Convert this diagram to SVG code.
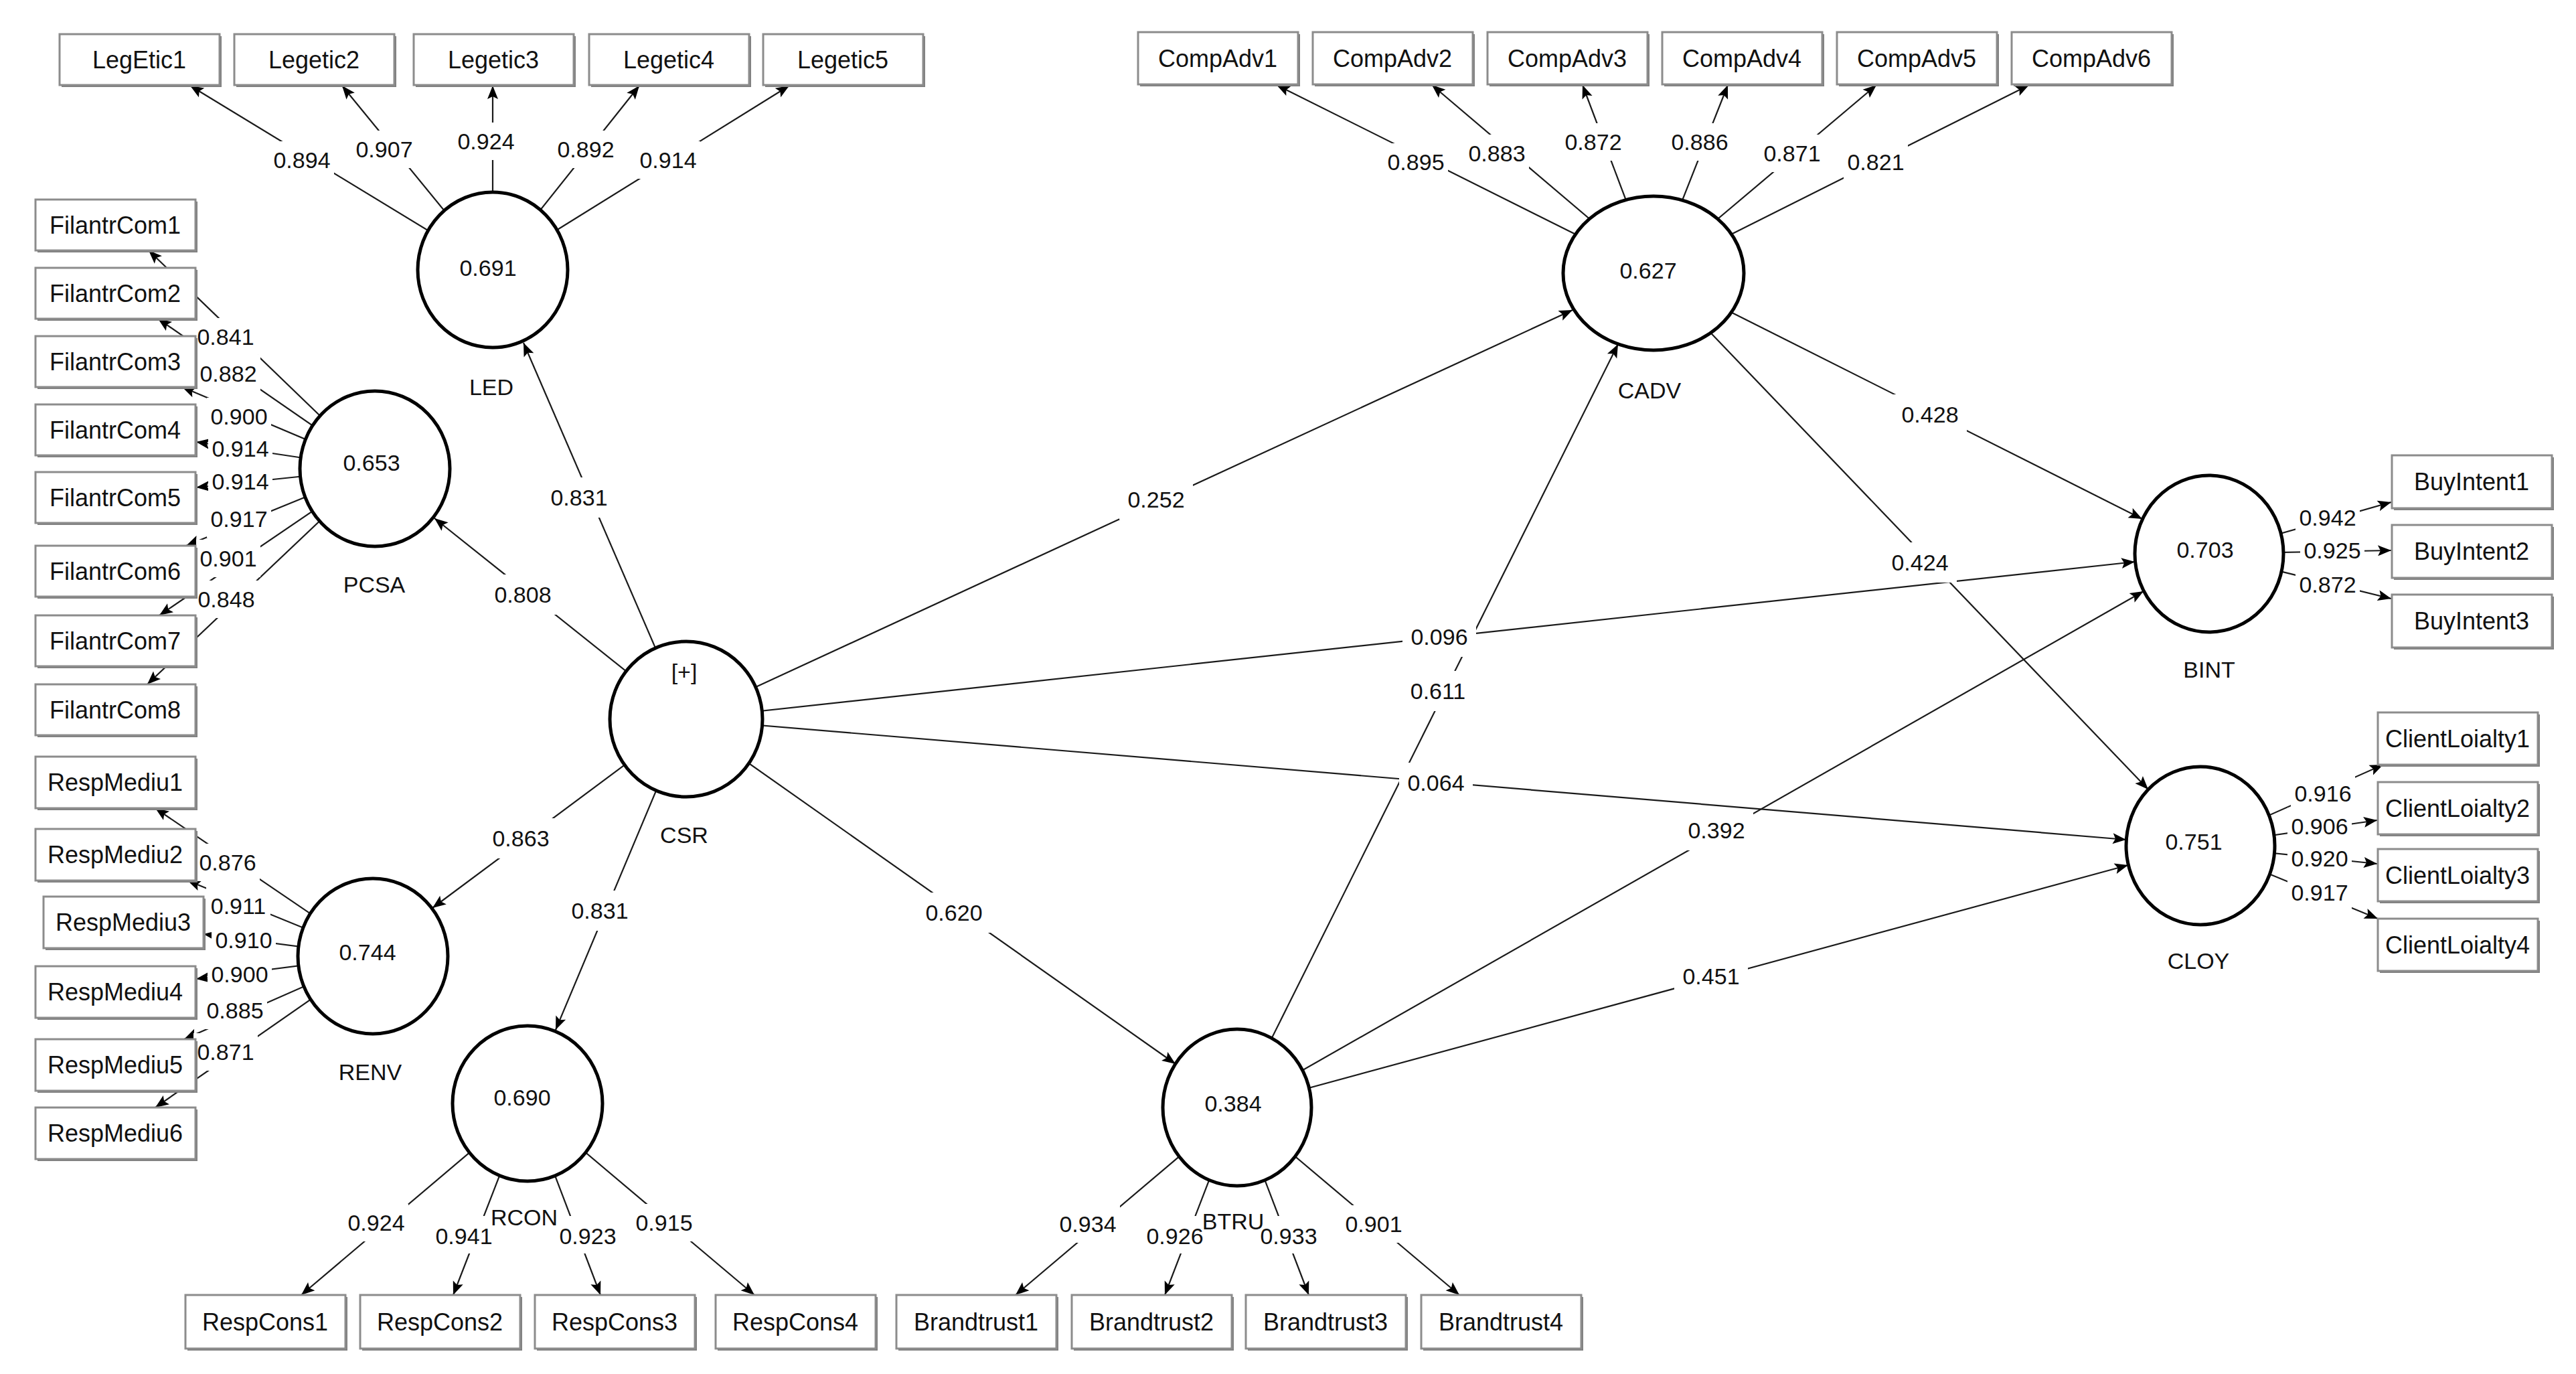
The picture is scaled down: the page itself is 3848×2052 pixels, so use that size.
<svg xmlns="http://www.w3.org/2000/svg" width="3848" height="2052" viewBox="0 0 3848 2052">
<style>
text{font-family:"Liberation Sans",Arial,sans-serif;fill:#111;text-anchor:middle;dominant-baseline:central}
.bt{font-size:36px}
.el{font-size:34px}
.lt{font-size:34px}
.bx{fill:#fff;stroke:#8c8c8c;stroke-width:3}
.sh{fill:#7f7f7f}
.lv{fill:#fff;stroke:#000;stroke-width:5}
.ln{stroke:#1a1a1a;stroke-width:2.2;fill:none;marker-end:url(#ah)}
</style>
<defs>
<marker id="ah" markerUnits="userSpaceOnUse" markerWidth="24" markerHeight="20" refX="20" refY="8" orient="auto" overflow="visible">
<path d="M0,0 L20,8 L0,16 L4,8 z" fill="#000"/>
</marker>
<mask id="gaps" maskUnits="userSpaceOnUse" x="0" y="0" width="3848" height="2052">
<rect x="0" y="0" width="3848" height="2052" fill="#fff"/>
<g fill="#000">
<rect x="403" y="211" width="96" height="56"/><rect x="526" y="195" width="96" height="56"/><rect x="678" y="183" width="96" height="56"/><rect x="827" y="195" width="96" height="56"/><rect x="950" y="211" width="96" height="56"/>
<rect x="2067" y="214" width="96" height="56"/><rect x="2188" y="201" width="96" height="56"/><rect x="2332" y="184" width="96" height="56"/><rect x="2491" y="184" width="96" height="56"/><rect x="2629" y="201" width="96" height="56"/><rect x="2754" y="214" width="96" height="56"/>
<rect x="289" y="475" width="96" height="56"/><rect x="293" y="530" width="96" height="56"/><rect x="309" y="594" width="96" height="56"/><rect x="311" y="642" width="96" height="56"/><rect x="311" y="691" width="96" height="56"/><rect x="309" y="747" width="96" height="56"/><rect x="293" y="806" width="96" height="56"/><rect x="290" y="867" width="96" height="56"/>
<rect x="292" y="1260" width="96" height="56"/><rect x="308" y="1325" width="96" height="56"/><rect x="316" y="1376" width="96" height="56"/><rect x="310" y="1427" width="96" height="56"/><rect x="303" y="1481" width="96" height="56"/><rect x="289" y="1543" width="96" height="56"/>
<rect x="514" y="1798" width="96" height="56"/><rect x="645" y="1816" width="96" height="56"/><rect x="830" y="1816" width="96" height="56"/><rect x="944" y="1798" width="96" height="56"/>
<rect x="1577" y="1800" width="96" height="56"/><rect x="1707" y="1816" width="96" height="56"/><rect x="1877" y="1816" width="96" height="56"/><rect x="2004" y="1800" width="96" height="56"/>
<rect x="3429" y="745" width="96" height="56"/><rect x="3436" y="794" width="96" height="56"/><rect x="3429" y="845" width="96" height="56"/>
<rect x="3422" y="1157" width="96" height="56"/><rect x="3417" y="1206" width="96" height="56"/><rect x="3417" y="1254" width="96" height="56"/><rect x="3417" y="1305" width="96" height="56"/>
<rect x="810" y="713" width="110" height="60"/><rect x="726" y="858" width="110" height="60"/><rect x="723" y="1222" width="110" height="60"/><rect x="841" y="1330" width="110" height="60"/><rect x="1672" y="716" width="110" height="60"/><rect x="2095" y="921" width="110" height="60"/><rect x="2090" y="1139" width="110" height="60"/><rect x="1370" y="1333" width="110" height="60"/><rect x="2093" y="1002" width="110" height="60"/><rect x="2509" y="1210" width="110" height="60"/><rect x="2501" y="1428" width="110" height="60"/><rect x="2828" y="589" width="110" height="60"/><rect x="2813" y="810" width="110" height="60"/>
</g>
</mask>
</defs>
<rect x="0" y="0" width="3848" height="2052" fill="#fff"/>

<g id="connectors">
<g mask="url(#gaps)">
<path class="ln" d="M736,403 L284,128"/><path class="ln" d="M736,403 L511,128"/><path class="ln" d="M736,403 L736,128"/><path class="ln" d="M736,403 L955,128"/><path class="ln" d="M736,403 L1179,128"/>
<path class="ln" d="M2470,408 L1907,127"/><path class="ln" d="M2470,408 L2139,127"/><path class="ln" d="M2470,408 L2364,127"/><path class="ln" d="M2470,408 L2581,127"/><path class="ln" d="M2470,408 L2803,127"/><path class="ln" d="M2470,408 L3031,127"/>
<path class="ln" d="M560,700 L222,374"/><path class="ln" d="M560,700 L236,476"/><path class="ln" d="M560,700 L272,578"/><path class="ln" d="M560,700 L293,660"/><path class="ln" d="M560,700 L293,728"/><path class="ln" d="M560,700 L278,815"/><path class="ln" d="M560,700 L238,919"/><path class="ln" d="M560,700 L220,1022"/>
<path class="ln" d="M557,1428 L232,1207"/><path class="ln" d="M557,1428 L280,1315"/><path class="ln" d="M557,1428 L304,1395"/><path class="ln" d="M557,1428 L293,1462"/><path class="ln" d="M557,1428 L275,1552"/><path class="ln" d="M557,1428 L232,1654"/>
<path class="ln" d="M788,1648 L450,1934"/><path class="ln" d="M788,1648 L677,1934"/><path class="ln" d="M788,1648 L897,1934"/><path class="ln" d="M788,1648 L1127,1934"/>
<path class="ln" d="M1848,1654 L1517,1934"/><path class="ln" d="M1848,1654 L1740,1934"/><path class="ln" d="M1848,1654 L1955,1934"/><path class="ln" d="M1848,1654 L2180,1934"/>
<path class="ln" d="M3300,827 L3572,750"/><path class="ln" d="M3300,827 L3572,822"/><path class="ln" d="M3300,827 L3572,894"/>
<path class="ln" d="M3287,1263 L3560,1142"/><path class="ln" d="M3287,1263 L3551,1225"/><path class="ln" d="M3287,1263 L3551,1290"/><path class="ln" d="M3287,1263 L3552,1372"/>
<path class="ln" d="M1025,1074 L782,512"/>
<path class="ln" d="M1025,1074 L649,774"/>
<path class="ln" d="M1025,1074 L646,1356"/>
<path class="ln" d="M1025,1074 L830,1538"/>
<path class="ln" d="M1025,1074 L2349,463"/>
<path class="ln" d="M1025,1074 L3189,839"/>
<path class="ln" d="M1025,1074 L3176,1254"/>
<path class="ln" d="M1025,1074 L1756,1589"/>
<path class="ln" d="M1848,1654 L2417,514"/>
<path class="ln" d="M1848,1654 L3202,883"/>
<path class="ln" d="M1848,1654 L3179,1292"/>
<path class="ln" d="M2470,408 L3200,775"/>
<path class="ln" d="M2470,408 L3209,1179"/>
</g>
<g class="el">
<text class="el" x="451" y="239">0.894</text><text class="el" x="574" y="223">0.907</text><text class="el" x="726" y="211">0.924</text><text class="el" x="875" y="223">0.892</text><text class="el" x="998" y="239">0.914</text>
<text class="el" x="2115" y="242">0.895</text><text class="el" x="2236" y="229">0.883</text><text class="el" x="2380" y="212">0.872</text><text class="el" x="2539" y="212">0.886</text><text class="el" x="2677" y="229">0.871</text><text class="el" x="2802" y="242">0.821</text>
<text class="el" x="337" y="503">0.841</text><text class="el" x="341" y="558">0.882</text><text class="el" x="357" y="622">0.900</text><text class="el" x="359" y="670">0.914</text><text class="el" x="359" y="719">0.914</text><text class="el" x="357" y="775">0.917</text><text class="el" x="341" y="834">0.901</text><text class="el" x="338" y="895">0.848</text>
<text class="el" x="340" y="1288">0.876</text><text class="el" x="356" y="1353">0.911</text><text class="el" x="364" y="1404">0.910</text><text class="el" x="358" y="1455">0.900</text><text class="el" x="351" y="1509">0.885</text><text class="el" x="337" y="1571">0.871</text>
<text class="el" x="562" y="1826">0.924</text><text class="el" x="693" y="1846">0.941</text><text class="el" x="878" y="1846">0.923</text><text class="el" x="992" y="1826">0.915</text>
<text class="el" x="1625" y="1828">0.934</text><text class="el" x="1755" y="1846">0.926</text><text class="el" x="1925" y="1846">0.933</text><text class="el" x="2052" y="1828">0.901</text>
<text class="el" x="3477" y="773">0.942</text><text class="el" x="3484" y="822">0.925</text><text class="el" x="3477" y="873">0.872</text>
<text class="el" x="3470" y="1185">0.916</text><text class="el" x="3465" y="1234">0.906</text><text class="el" x="3465" y="1282">0.920</text><text class="el" x="3465" y="1333">0.917</text>
<text class="el" x="865" y="743">0.831</text><text class="el" x="781" y="888">0.808</text><text class="el" x="778" y="1252">0.863</text><text class="el" x="896" y="1360">0.831</text>
<text class="el" x="1727" y="746">0.252</text><text class="el" x="2150" y="951">0.096</text><text class="el" x="2145" y="1169">0.064</text><text class="el" x="1425" y="1363">0.620</text>
<text class="el" x="2148" y="1032">0.611</text><text class="el" x="2564" y="1240">0.392</text><text class="el" x="2556" y="1458">0.451</text><text class="el" x="2883" y="619">0.428</text><text class="el" x="2868" y="840">0.424</text>
</g>
</g>

<g id="LED"><ellipse class="lv" cx="736" cy="403" rx="112" ry="116"/><text class="lt" x="729" y="400">0.691</text><text class="lt" x="734" y="578">LED</text></g>
<g id="PCSA"><ellipse class="lv" cx="560" cy="700" rx="112" ry="116"/><text class="lt" x="555" y="691">0.653</text><text class="lt" x="559" y="873">PCSA</text></g>
<g id="CSR"><ellipse class="lv" cx="1025" cy="1074" rx="114" ry="116"/><text class="lt" x="1022" y="1003">[+]</text><text class="lt" x="1022" y="1247">CSR</text></g>
<g id="RENV"><ellipse class="lv" cx="557" cy="1428" rx="112" ry="116"/><text class="lt" x="549" y="1422">0.744</text><text class="lt" x="553" y="1601">RENV</text></g>
<g id="RCON"><ellipse class="lv" cx="788" cy="1648" rx="112" ry="116"/><text class="lt" x="780" y="1639">0.690</text><text class="lt" x="783" y="1818">RCON</text></g>
<g id="BTRU"><ellipse class="lv" cx="1848" cy="1654" rx="111" ry="117"/><text class="lt" x="1842" y="1648">0.384</text><text class="lt" x="1842" y="1824">BTRU</text></g>
<g id="CADV"><ellipse class="lv" cx="2470" cy="408" rx="135" ry="115"/><text class="lt" x="2462" y="404">0.627</text><text class="lt" x="2464" y="583">CADV</text></g>
<g id="BINT"><ellipse class="lv" cx="3300" cy="827" rx="111" ry="117"/><text class="lt" x="3294" y="821">0.703</text><text class="lt" x="3300" y="1000">BINT</text></g>
<g id="CLOY"><ellipse class="lv" cx="3287" cy="1263" rx="111" ry="118"/><text class="lt" x="3277" y="1257">0.751</text><text class="lt" x="3284" y="1435">CLOY</text></g>

<g id="LegEtic1"><rect class="sh" x="92" y="54" width="239" height="76"/><rect class="bx" x="89" y="51" width="239" height="76"/><text class="bt" x="208" y="89">LegEtic1</text></g>
<g id="Legetic2"><rect class="sh" x="353" y="54" width="239" height="76"/><rect class="bx" x="350" y="51" width="239" height="76"/><text class="bt" x="469" y="89">Legetic2</text></g>
<g id="Legetic3"><rect class="sh" x="621" y="54" width="239" height="76"/><rect class="bx" x="618" y="51" width="239" height="76"/><text class="bt" x="737" y="89">Legetic3</text></g>
<g id="Legetic4"><rect class="sh" x="883" y="54" width="239" height="76"/><rect class="bx" x="880" y="51" width="239" height="76"/><text class="bt" x="999" y="89">Legetic4</text></g>
<g id="Legetic5"><rect class="sh" x="1143" y="54" width="239" height="76"/><rect class="bx" x="1140" y="51" width="239" height="76"/><text class="bt" x="1259" y="89">Legetic5</text></g>

<g id="CompAdv1"><rect class="sh" x="1703" y="51" width="239" height="78"/><rect class="bx" x="1700" y="48" width="239" height="78"/><text class="bt" x="1819" y="87">CompAdv1</text></g>
<g id="CompAdv2"><rect class="sh" x="1964" y="51" width="239" height="78"/><rect class="bx" x="1961" y="48" width="239" height="78"/><text class="bt" x="2080" y="87">CompAdv2</text></g>
<g id="CompAdv3"><rect class="sh" x="2225" y="51" width="239" height="78"/><rect class="bx" x="2222" y="48" width="239" height="78"/><text class="bt" x="2341" y="87">CompAdv3</text></g>
<g id="CompAdv4"><rect class="sh" x="2486" y="51" width="239" height="78"/><rect class="bx" x="2483" y="48" width="239" height="78"/><text class="bt" x="2602" y="87">CompAdv4</text></g>
<g id="CompAdv5"><rect class="sh" x="2747" y="51" width="239" height="78"/><rect class="bx" x="2744" y="48" width="239" height="78"/><text class="bt" x="2863" y="87">CompAdv5</text></g>
<g id="CompAdv6"><rect class="sh" x="3008" y="51" width="239" height="78"/><rect class="bx" x="3005" y="48" width="239" height="78"/><text class="bt" x="3124" y="87">CompAdv6</text></g>

<g id="FilantrCom1"><rect class="sh" x="56" y="301" width="239" height="76"/><rect class="bx" x="53" y="298" width="239" height="76"/><text class="bt" x="172" y="336">FilantrCom1</text></g>
<g id="FilantrCom2"><rect class="sh" x="56" y="403" width="239" height="76"/><rect class="bx" x="53" y="400" width="239" height="76"/><text class="bt" x="172" y="438">FilantrCom2</text></g>
<g id="FilantrCom3"><rect class="sh" x="56" y="505" width="239" height="76"/><rect class="bx" x="53" y="502" width="239" height="76"/><text class="bt" x="172" y="540">FilantrCom3</text></g>
<g id="FilantrCom4"><rect class="sh" x="56" y="607" width="239" height="76"/><rect class="bx" x="53" y="604" width="239" height="76"/><text class="bt" x="172" y="642">FilantrCom4</text></g>
<g id="FilantrCom5"><rect class="sh" x="56" y="708" width="239" height="76"/><rect class="bx" x="53" y="705" width="239" height="76"/><text class="bt" x="172" y="743">FilantrCom5</text></g>
<g id="FilantrCom6"><rect class="sh" x="56" y="818" width="239" height="76"/><rect class="bx" x="53" y="815" width="239" height="76"/><text class="bt" x="172" y="853">FilantrCom6</text></g>
<g id="FilantrCom7"><rect class="sh" x="56" y="922" width="239" height="76"/><rect class="bx" x="53" y="919" width="239" height="76"/><text class="bt" x="172" y="957">FilantrCom7</text></g>
<g id="FilantrCom8"><rect class="sh" x="56" y="1025" width="239" height="76"/><rect class="bx" x="53" y="1022" width="239" height="76"/><text class="bt" x="172" y="1060">FilantrCom8</text></g>

<g id="RespMediu1"><rect class="sh" x="56" y="1133" width="239" height="77"/><rect class="bx" x="53" y="1130" width="239" height="77"/><text class="bt" x="172" y="1168">RespMediu1</text></g>
<g id="RespMediu2"><rect class="sh" x="56" y="1241" width="239" height="77"/><rect class="bx" x="53" y="1238" width="239" height="77"/><text class="bt" x="172" y="1276">RespMediu2</text></g>
<g id="RespMediu3"><rect class="sh" x="68" y="1342" width="239" height="77"/><rect class="bx" x="65" y="1339" width="239" height="77"/><text class="bt" x="184" y="1377">RespMediu3</text></g>
<g id="RespMediu4"><rect class="sh" x="56" y="1446" width="239" height="77"/><rect class="bx" x="53" y="1443" width="239" height="77"/><text class="bt" x="172" y="1481">RespMediu4</text></g>
<g id="RespMediu5"><rect class="sh" x="56" y="1555" width="239" height="77"/><rect class="bx" x="53" y="1552" width="239" height="77"/><text class="bt" x="172" y="1590">RespMediu5</text></g>
<g id="RespMediu6"><rect class="sh" x="56" y="1657" width="239" height="77"/><rect class="bx" x="53" y="1654" width="239" height="77"/><text class="bt" x="172" y="1692">RespMediu6</text></g>

<g id="RespCons1"><rect class="sh" x="280" y="1937" width="239" height="80"/><rect class="bx" x="277" y="1934" width="239" height="80"/><text class="bt" x="396" y="1974">RespCons1</text></g>
<g id="RespCons2"><rect class="sh" x="541" y="1937" width="239" height="80"/><rect class="bx" x="538" y="1934" width="239" height="80"/><text class="bt" x="657" y="1974">RespCons2</text></g>
<g id="RespCons3"><rect class="sh" x="802" y="1937" width="239" height="80"/><rect class="bx" x="799" y="1934" width="239" height="80"/><text class="bt" x="918" y="1974">RespCons3</text></g>
<g id="RespCons4"><rect class="sh" x="1072" y="1937" width="239" height="80"/><rect class="bx" x="1069" y="1934" width="239" height="80"/><text class="bt" x="1188" y="1974">RespCons4</text></g>

<g id="Brandtrust1"><rect class="sh" x="1342" y="1937" width="239" height="80"/><rect class="bx" x="1339" y="1934" width="239" height="80"/><text class="bt" x="1458" y="1974">Brandtrust1</text></g>
<g id="Brandtrust2"><rect class="sh" x="1604" y="1937" width="239" height="80"/><rect class="bx" x="1601" y="1934" width="239" height="80"/><text class="bt" x="1720" y="1974">Brandtrust2</text></g>
<g id="Brandtrust3"><rect class="sh" x="1864" y="1937" width="239" height="80"/><rect class="bx" x="1861" y="1934" width="239" height="80"/><text class="bt" x="1980" y="1974">Brandtrust3</text></g>
<g id="Brandtrust4"><rect class="sh" x="2126" y="1937" width="239" height="80"/><rect class="bx" x="2123" y="1934" width="239" height="80"/><text class="bt" x="2242" y="1974">Brandtrust4</text></g>

<g id="BuyIntent1"><rect class="sh" x="3576" y="683" width="239" height="79"/><rect class="bx" x="3573" y="680" width="239" height="79"/><text class="bt" x="3692" y="719">BuyIntent1</text></g>
<g id="BuyIntent2"><rect class="sh" x="3576" y="787" width="239" height="79"/><rect class="bx" x="3573" y="784" width="239" height="79"/><text class="bt" x="3692" y="823">BuyIntent2</text></g>
<g id="BuyIntent3"><rect class="sh" x="3576" y="891" width="239" height="79"/><rect class="bx" x="3573" y="888" width="239" height="79"/><text class="bt" x="3692" y="927">BuyIntent3</text></g>

<g id="ClientLoialty1"><rect class="sh" x="3555" y="1067" width="239" height="78"/><rect class="bx" x="3552" y="1064" width="239" height="78"/><text class="bt" x="3671" y="1103">ClientLoialty1</text></g>
<g id="ClientLoialty2"><rect class="sh" x="3555" y="1171" width="239" height="78"/><rect class="bx" x="3552" y="1168" width="239" height="78"/><text class="bt" x="3671" y="1207">ClientLoialty2</text></g>
<g id="ClientLoialty3"><rect class="sh" x="3555" y="1271" width="239" height="78"/><rect class="bx" x="3552" y="1268" width="239" height="78"/><text class="bt" x="3671" y="1307">ClientLoialty3</text></g>
<g id="ClientLoialty4"><rect class="sh" x="3555" y="1375" width="239" height="78"/><rect class="bx" x="3552" y="1372" width="239" height="78"/><text class="bt" x="3671" y="1411">ClientLoialty4</text></g>
</svg>
